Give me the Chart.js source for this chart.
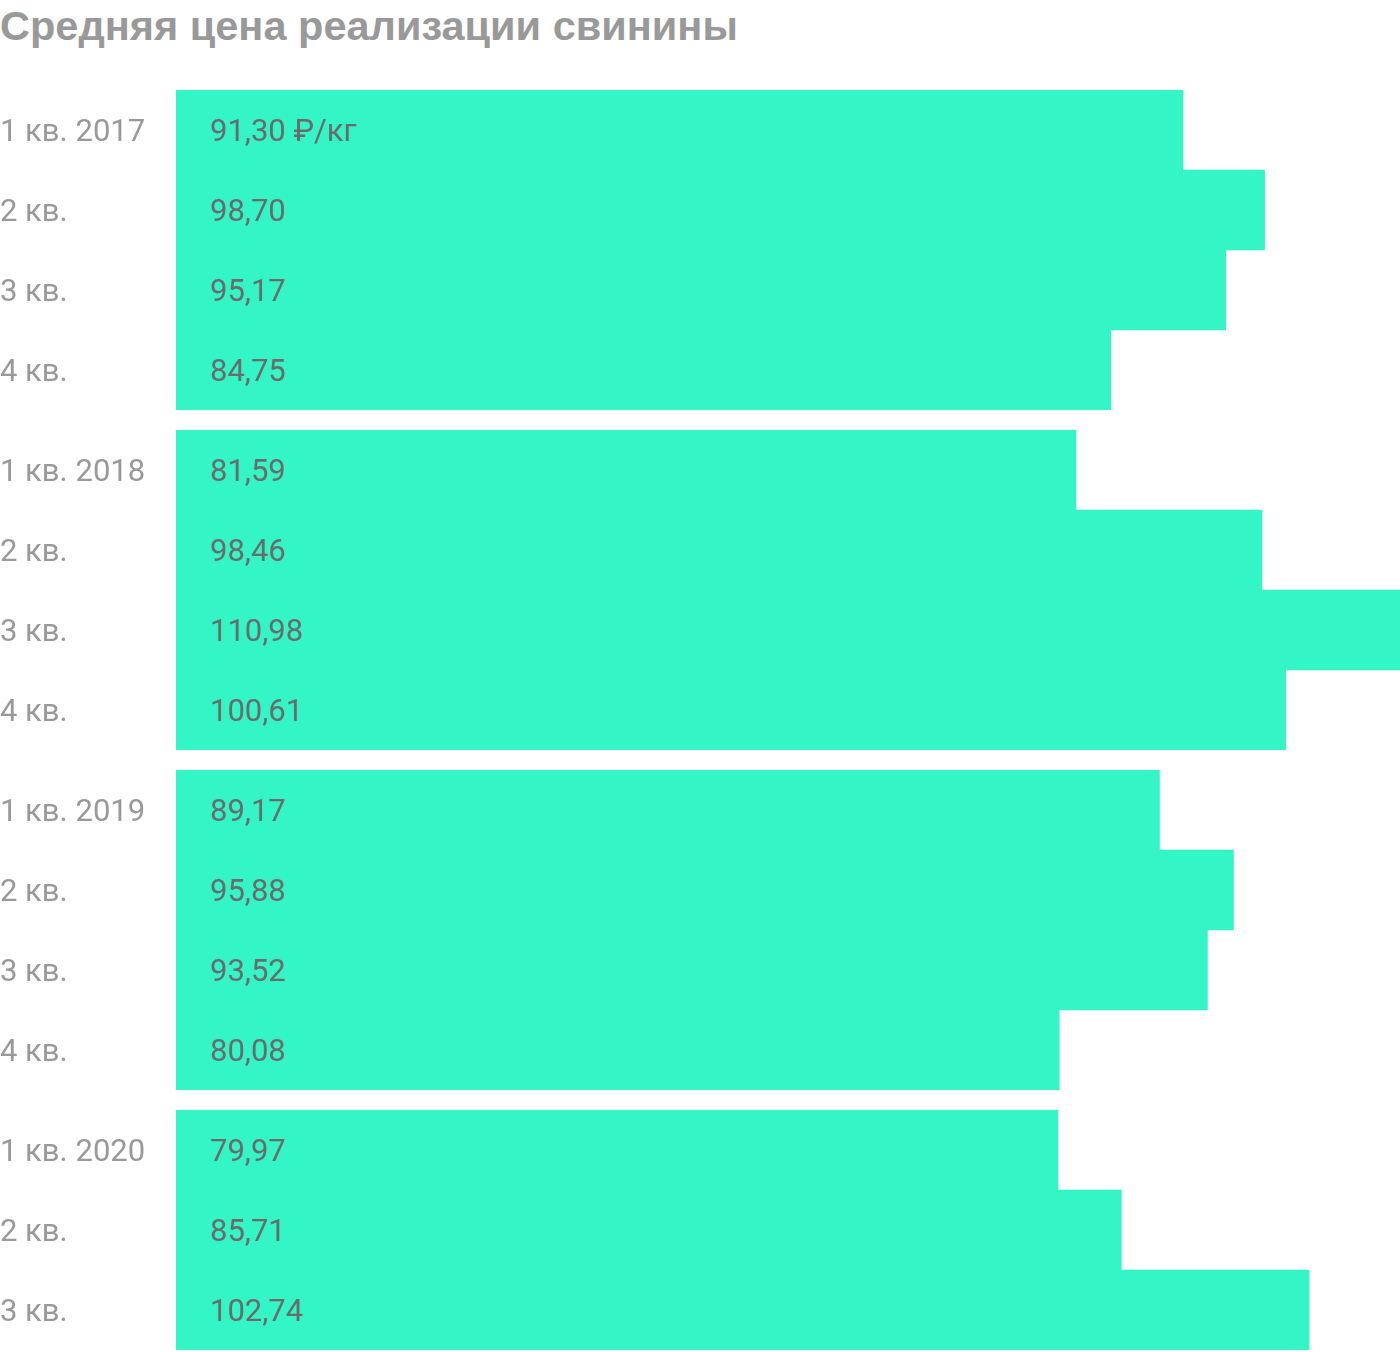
<!DOCTYPE html>
<html>
<head>
<meta charset="utf-8">
<script src="https://cdn.jsdelivr.net/npm/chart.js@4"></script>
<style>
  body { margin: 0; background: #fff; width: 1400px; }
  h1 { margin: 0; height: 90px; font: bold 41.5px "Liberation Sans", Arial, sans-serif; color: #999; line-height: 52px; }
  .box { position: relative; width: 1400px; margin-bottom: 20px; }
</style>
</head>
<body>
<h1>Средняя цена реализации свинины</h1>
<div class="box" style="height:320px"><canvas id="y2017"></canvas></div>
<div class="box" style="height:320px"><canvas id="y2018"></canvas></div>
<div class="box" style="height:320px"><canvas id="y2019"></canvas></div>
<div class="box" style="height:240px"><canvas id="y2020"></canvas></div>
<script>
// Подписи кварталов
const labels2017 = ["1 кв. 2017", "2 кв.", "3 кв.", "4 кв."];
const labels2018 = ["1 кв. 2018", "2 кв.", "3 кв.", "4 кв."];
const labels2019 = ["1 кв. 2019", "2 кв.", "3 кв.", "4 кв."];
const labels2020 = ["1 кв. 2020", "2 кв.", "3 кв."];

// Цена, руб/кг
const price2017 = [91.30, 98.70, 95.17, 84.75];
const price2018 = [81.59, 98.46, 110.98, 100.61];
const price2019 = [89.17, 95.88, 93.52, 80.08];
const price2020 = [79.97, 85.71, 102.74];

const maxPrice = Math.max(...price2017, ...price2018, ...price2019, ...price2020);

// подписи значений внутри столбцов
const valueLabels = {
  id: "valueLabels",
  afterDatasetsDraw(chart) {
    const ctx = chart.ctx;
    const meta = chart.getDatasetMeta(0);
    ctx.save();
    ctx.font = "31px Roboto";
    ctx.fillStyle = "#6b6b6b";
    ctx.textBaseline = "middle";
    meta.data.forEach((bar, i) => {
      let txt = chart.data.datasets[0].data[i].toFixed(2).replace(".", ",");
      if (chart.canvas.id === "y2017" && i === 0) txt += " ₽/кг";
      ctx.fillText(txt, bar.base + 34, bar.y + 3);
    });
    ctx.restore();
  }
};

function drawYear(id, labels, values) {
  new Chart(document.getElementById(id), {
    type: "bar",
    data: {
      labels: labels,
      datasets: [{
        data: values,
        backgroundColor: "#33f5c5",
        categoryPercentage: 1,
        barPercentage: 1
      }]
    },
    options: {
      indexAxis: "y",
      maintainAspectRatio: false,
      animation: false,
      layout: { padding: 0 },
      scales: {
        x: { display: false, min: 0, max: maxPrice },
        y: {
          grid: { display: false, drawTicks: false },
          border: { display: false },
          afterFit: (axis) => {
            axis.width = 176;
            axis.paddingTop = 0;
            axis.paddingBottom = 0;
          },
          ticks: {
            crossAlign: "far",
            padding: 0,
            labelOffset: 3,
            color: "#999",
            font: { family: "Roboto", size: 31 }
          }
        }
      },
      plugins: {
        legend: { display: false },
        tooltip: { enabled: false }
      }
    },
    plugins: [valueLabels]
  });
}

drawYear("y2017", labels2017, price2017);
drawYear("y2018", labels2018, price2018);
drawYear("y2019", labels2019, price2019);
drawYear("y2020", labels2020, price2020);
</script>
</body>
</html>
